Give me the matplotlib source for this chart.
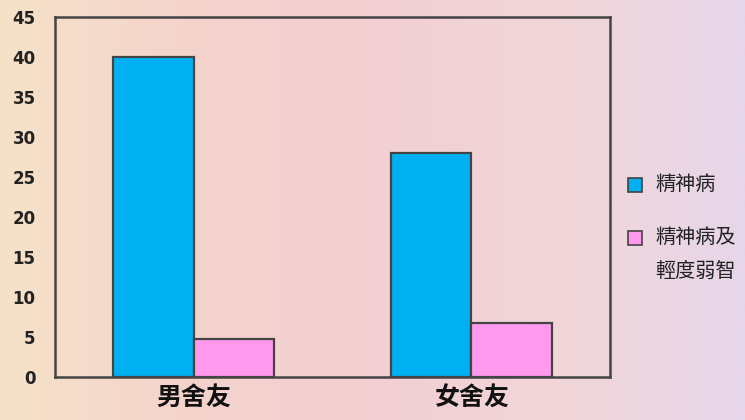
import numpy as np
import matplotlib
matplotlib.use("Agg")
import matplotlib.pyplot as plt
from matplotlib.colors import LinearSegmentedColormap
from matplotlib.patches import Rectangle

plt.rcParams['font.family'] = ['Noto Sans CJK TC', 'DejaVu Sans']

categories = ["男舍友", "女舍友"]
series_names = ["精神病", "精神病及\n輕度弱智"]
series_colors = ["#00b0f0", "#ff99ee"]
psychosis = [40, 28]
psychosis_mild = [4.8, 6.8]
yticks = [0, 5, 10, 15, 20, 25, 30, 35, 40, 45]

W, H = 745, 420
fig = plt.figure(figsize=(W / 100, H / 100), dpi=100)

# -------- pastel backdrop --------
bg = fig.add_axes([0, 0, 1, 1], zorder=-1)
cmap = LinearSegmentedColormap.from_list(
    "paper", ["#f6e2c8", "#f4d3cc", "#f2cfd2", "#f1d6d8", "#e7d6ea"])
grad = np.linspace(0, 1, 256).reshape(1, -1)
bg.imshow(grad, aspect="auto", cmap=cmap, extent=[0, 1, 0, 1])
bg.axis("off")

# -------- bars --------
ax = fig.add_axes([55 / W, 43 / H, 555 / W, 360 / H])
ax.set_facecolor("none")
x = np.arange(len(categories))
w = 0.29
ax.bar(x - w / 2, psychosis, w, color=series_colors[0], edgecolor="#444444",
       linewidth=1.6)
ax.bar(x + w / 2, psychosis_mild, w, color=series_colors[1], edgecolor="#444444",
       linewidth=1.6)

ax.set_xlim(-0.5, 1.5)
ax.set_ylim(0, 45)
ax.set_yticks(yticks)
ax.set_yticklabels([str(t) for t in yticks], fontsize=12, fontweight="bold",
                   color="#222222", family="DejaVu Sans")
ax.set_xticks(x)
ax.set_xticklabels(categories, fontsize=18, fontweight="bold", color="#111111")
ax.tick_params(axis="both", length=0)
ax.tick_params(axis="y", pad=14)
ax.tick_params(axis="x", pad=6)
for s in ax.spines.values():
    s.set_color("#444444")
    s.set_linewidth(1.8)

# -------- legend (square lined up with the first text line) --------
leg_y = [185, 238]  # pixel rows from the top
for name, col, yy in zip(series_names, series_colors, leg_y):
    fig.patches.append(Rectangle((628 / W, (H - yy - 7) / H), 14 / W, 14 / H,
                                 transform=fig.transFigure, facecolor=col,
                                 edgecolor="#444444", linewidth=1.2))
    fig.text(655 / W, (H - yy + 11) / H, name, fontsize=14.5, va="top",
             ha="left", color="#222222", linespacing=1.8)

fig.savefig("out.png", dpi=100)
